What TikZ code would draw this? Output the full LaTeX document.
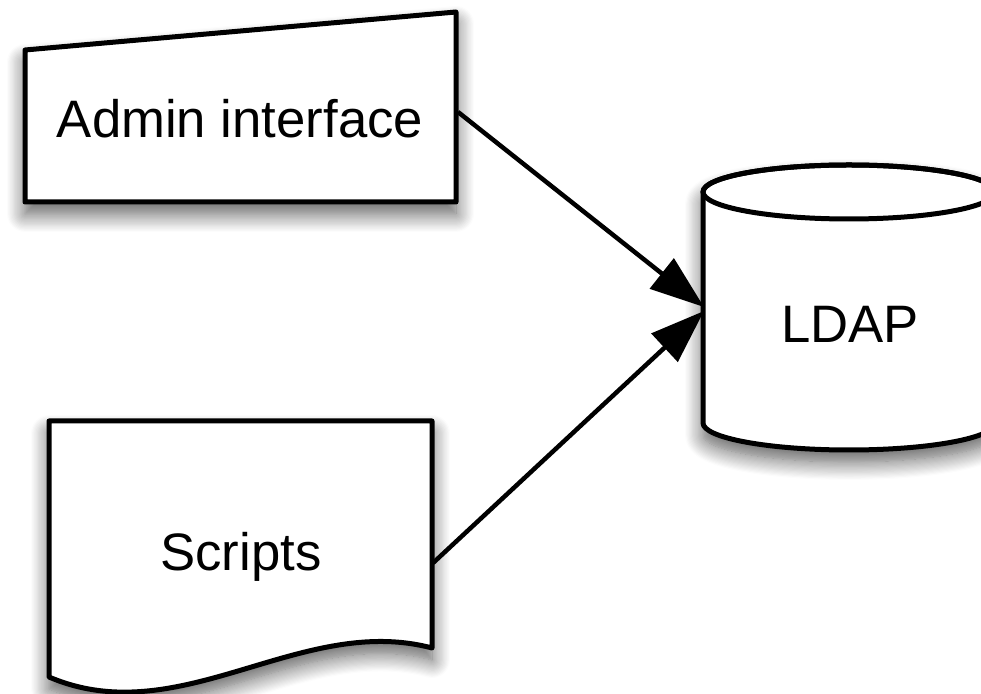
\documentclass[tikz,border=0pt]{standalone}
\usepackage{fontspec}
\setmainfont{Liberation Sans}
\usetikzlibrary{arrows.meta,shadows.blur}
\tikzset{
  shapeline/.style={draw=black, line width=5pt, fill=white, line join=round,
    blur shadow={shadow xshift=0pt, shadow yshift=-12pt, shadow blur radius=18pt, shadow blur steps=16, shadow opacity=65}},
  label/.style={anchor=base, inner sep=0pt, font=\fontsize{52.7}{60}\selectfont},
  conn/.style={draw=black, line width=4.5pt, -{Triangle[length=54pt,width=38pt]}},
}
\begin{document}
\begin{tikzpicture}[x=1pt,y=1pt]
\useasboundingbox (0,0) rectangle (981,693);
\begin{scope}
\clip (0,0) rectangle (981,693);
% Admin interface (manual input)
\path[shapeline] (25,643) -- (456,681) -- (456,491) -- (25,491) -- cycle;
\node[label] (admin) at (240,555) {Admin interface};
% Scripts (document)
\path[shapeline] (49,272) -- (432,272) -- (432,45)
  .. controls (300,80) and (180,-40) .. (49,16) -- cycle;
\node[label] (scripts) at (241,123) {Scripts};
% LDAP (cylinder)
\path[shapeline] (703,501) -- (703,270)
  arc[start angle=180, end angle=360, x radius=146pt, y radius=27pt]
  -- (995,501)
  arc[start angle=0, end angle=180, x radius=146pt, y radius=27pt] -- cycle;
\draw[line width=5pt] (849,501) ellipse[x radius=146pt, y radius=27pt];
\node[label] (ldap) at (850,350) {LDAP};
\end{scope}
% connector end points
\coordinate (adminE) at (458,581);
\coordinate (scriptsE) at (433,130);
\coordinate (ldapW1) at (704,386);
\coordinate (ldapW2) at (704,382);
\draw[conn] (adminE) -- (ldapW1);
\draw[conn] (scriptsE) -- (ldapW2);
\end{tikzpicture}
\end{document}
